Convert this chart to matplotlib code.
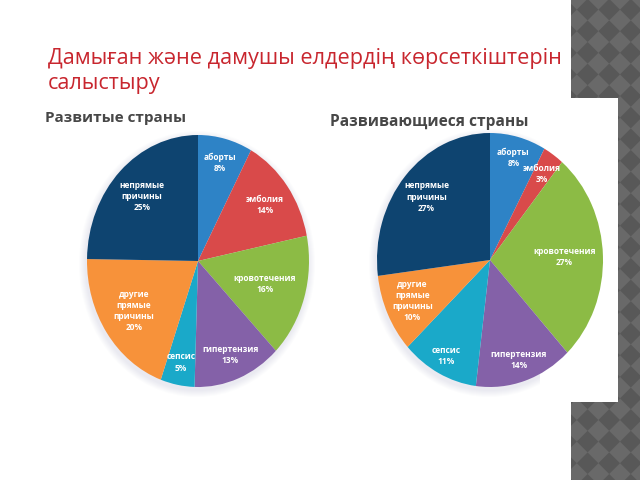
import numpy as np
import matplotlib
matplotlib.use('Agg')
import matplotlib.pyplot as plt
from matplotlib.patches import Rectangle, Polygon, Ellipse

# данные
causes = ['аборты', 'эмболия', 'кровотечения', 'гипертензия', 'сепсис',
          'другие\nпрямые\nпричины', 'непрямые\nпричины']
developed = [8, 14, 16, 13, 5, 20, 25]
developing = [8, 3, 27, 14, 11, 10, 27]
colors = ['#2E83C6', '#D94A4A', '#8CBB45', '#8461A8', '#1AA9C9', '#F7923A', '#0E4470']

title = 'Дамыған және дамушы елдердің көрсеткіштерін\nсалыстыру'
sub1 = 'Развитые страны'
sub2 = 'Развивающиеся страны'

W, H = 640, 480
fig = plt.figure(figsize=(6.4, 4.8), dpi=100)
fig.patch.set_facecolor('white')

# фон: полоса с ромбами справа
bg = fig.add_axes([0, 0, 1, 1])
bg.set_xlim(0, W)
bg.set_ylim(H, 0)
bg.axis('off')
bg.add_patch(Rectangle((571, 0), 69, H, color='#696969', lw=0))
d = 10.8
for cx in np.arange(566, 670, 2 * d):
    for cy in np.arange(-12, 500, 2 * d):
        bg.add_patch(Polygon([(cx, cy - d), (cx + d, cy), (cx, cy + d), (cx - d, cy)],
                             closed=True, color='#585858', lw=0))
bg.add_patch(Rectangle((571, -5), -30, H + 10, color='white', lw=0, zorder=3))
bg.add_patch(Rectangle((540, 98), 78, 304, color='white', lw=0, zorder=3))

# заголовок (базовая линия последней строки)
bg.text(48, 89, title, color='#C8262E', fontsize=15.6, family='Open Sans',
        va='baseline', ha='left', linespacing=1.22)
bg.text(45, 118, sub1, color='#474747', fontsize=11, family='Open Sans',
        weight='bold', va='center', ha='left')
bg.text(330, 122, sub2, color='#474747', fontsize=11.2, family='Open Sans',
        weight='bold', va='center', ha='left')

# мягкая тень вокруг кругов
for cx, cy, rx, ry in [(198, 261, 111, 126), (490, 260, 113, 127)]:
    for k in range(7):
        bg.add_patch(Ellipse((cx - 1, cy + 3), 2 * rx + 2 * k + 2, 2 * ry + 2 * k + 2,
                             color='#a4acc0', alpha=0.03, lw=0, zorder=1))


def draw_pie(rect, values, lbl_r):
    ax = fig.add_axes(rect)
    wedges, _ = ax.pie(values, colors=colors, startangle=90, counterclock=False,
                       wedgeprops=dict(lw=0))
    ax.set_aspect('auto')
    ax.set_xlim(-1, 1)
    ax.set_ylim(-1, 1)
    for w, name, v, r in zip(wedges, causes, values, lbl_r):
        ang = np.deg2rad((w.theta1 + w.theta2) / 2)
        ax.text(r * np.cos(ang), r * np.sin(ang), f'{name}\n{v}%', color='white',
                fontsize=6, family='Open Sans', weight='bold', ha='center', va='center',
                linespacing=1.3)
    return ax


r1 = [0.8, 0.75, 0.63, 0.8, 0.82, 0.7, 0.72]
r2 = [0.83, 0.82, 0.66, 0.83, 0.85, 0.76, 0.75]
draw_pie([87 / W, (H - 387) / H, 222 / W, 252 / H], developed, r1)
draw_pie([377 / W, (H - 387) / H, 226 / W, 254 / H], developing, r2)

fig.savefig('out.png', dpi=100)
